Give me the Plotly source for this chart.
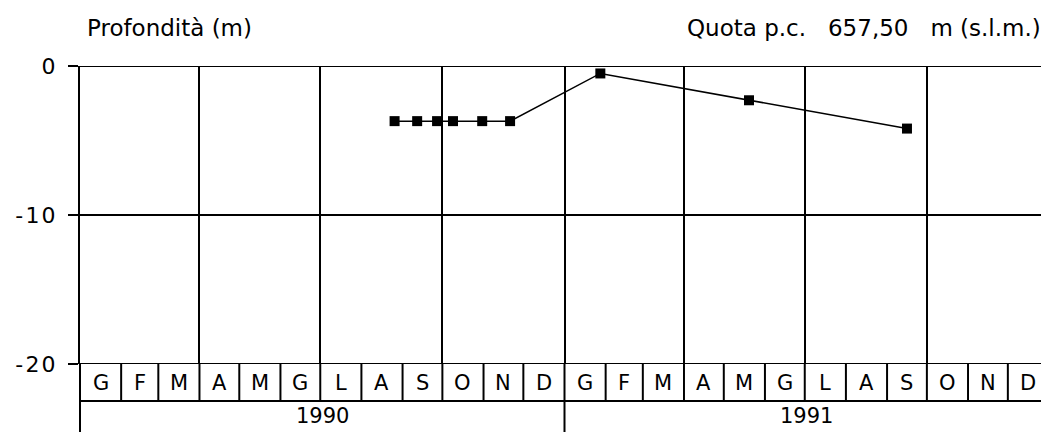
import plotly.graph_objects as go
import pandas as pd

# ---- data ----
dates = ["1990-08-26", "1990-09-12", "1990-09-27", "1990-10-09", "1990-10-31",
         "1990-11-21", "1991-01-28", "1991-05-20", "1991-09-16"]
depth = [-3.7, -3.7, -3.7, -3.7, -3.7, -3.7, -0.5, -2.3, -4.2]
month_labels = ["G", "F", "M", "A", "M", "G", "L", "A", "S", "O", "N", "D"]
years = [1990, 1991]
y_ticks = [0, -10, -20]
y_ticktext = ["0", "-\u200a1\u200a0", "-\u200a2\u200a0"]

# reference frame (page) and the 8px body margin of the html page
REF_W, REF_H = 1049, 432
OFF = 8
W, H = REF_W - OFF, REF_H - OFF
PL, PT = 80, 66                 # plot left/top in page pixels
ML, MT = PL - OFF, PT - OFF
plot_h = REF_H - PT             # paper height in px
y_low = (REF_H - 364) / plot_h  # bottom of value area (-20)
row_bot = (REF_H - 401) / plot_h  # bottom of month row
FONT = "DejaVu Sans"

fig = go.Figure()
fig.add_trace(go.Scatter(
    x=dates, y=depth, mode="lines+markers",
    line=dict(color="black", width=1.5),
    marker=dict(symbol="square", size=10, color="black"),
    showlegend=False, hoverinfo="x+y"))

shapes = []
annotations = []
months = pd.date_range(f"{years[0]}-01-01", f"{years[-1] + 1}-01-01", freq="MS")
for i in range(len(months) - 1):
    m0, m1 = months[i], months[i + 1]
    shapes.append(dict(type="line", xref="x", yref="paper", x0=m0, x1=m0,
                       y0=row_bot, y1=y_low, line=dict(color="black", width=2)))
    mid = m0 + (m1 - m0) / 2
    annotations.append(dict(x=mid, y=(row_bot + y_low) / 2, xref="x", yref="paper",
                            text=month_labels[m0.month - 1], showarrow=False,
                            font=dict(family=FONT, size=21, color="black"),
                            xanchor="center", yanchor="middle"))
# month row bottom
shapes.append(dict(type="line", xref="paper", yref="paper", x0=0, x1=1,
                   y0=row_bot, y1=row_bot, line=dict(color="black", width=2)))
# top & bottom borders of the value area
for yv in (0, -20):
    shapes.append(dict(type="line", xref="paper", yref="y", x0=0, x1=1,
                       y0=yv, y1=yv, line=dict(color="black", width=2)))
# left axis through rows
shapes.append(dict(type="line", xref="paper", yref="paper", x0=0, x1=0,
                   y0=0, y1=y_low, line=dict(color="black", width=2)))
# year dividers + labels
for yr in years:
    y0d = pd.Timestamp(f"{yr}-01-01")
    y1d = pd.Timestamp(f"{yr + 1}-01-01")
    if yr != years[0]:
        shapes.append(dict(type="line", xref="x", yref="paper", x0=y0d, x1=y0d,
                           y0=0, y1=row_bot, line=dict(color="black", width=2)))
    annotations.append(dict(x=y0d + (y1d - y0d) / 2, y=(REF_H - 416) / plot_h,
                            xref="x", yref="paper", text=str(yr), showarrow=False,
                            font=dict(family=FONT, size=21, color="black"),
                            xanchor="center", yanchor="middle"))

annotations.append(dict(x=(85 - PL) / (REF_W - PL), y=(REF_H - 28) / plot_h,
                        xref="paper", yref="paper", text="Profondità (m)",
                        showarrow=False, xanchor="left", yanchor="middle",
                        font=dict(family=FONT, size=23, color="black")))
annotations.append(dict(x=(1043 - PL) / (REF_W - PL), y=(REF_H - 28) / plot_h,
                        xref="paper", yref="paper",
                        text="Quota p.c.\u00a0\u00a0 657,50\u00a0\u00a0 m (s.l.m.)",
                        showarrow=False, xanchor="right", yanchor="middle",
                        font=dict(family=FONT, size=23, color="black")))

fig.update_layout(
    width=W, height=H,
    margin=dict(l=ML, r=0, t=MT, b=0, pad=0),
    paper_bgcolor="white", plot_bgcolor="white",
    shapes=shapes, annotations=annotations,
    xaxis=dict(type="date", range=[f"{years[0]}-01-01", f"{years[-1] + 1}-01-01"],
               showticklabels=False, ticks="", tick0=f"{years[0]}-01-01", dtick="M3",
               showgrid=True, gridcolor="black", gridwidth=2, zeroline=False,
               showline=False, automargin=False),
    yaxis=dict(range=[-20, 0], domain=[y_low, 1], tickvals=y_ticks, ticktext=y_ticktext,
               showgrid=True, gridcolor="black", gridwidth=2, zeroline=False,
               showline=True, linecolor="black", linewidth=2, automargin=False,
               ticks="outside", ticklen=10, tickwidth=2, tickcolor="black",
               ticklabelstandoff=8,
               tickfont=dict(family=FONT, size=22, color="black")),
)
fig.write_html("out.html")
